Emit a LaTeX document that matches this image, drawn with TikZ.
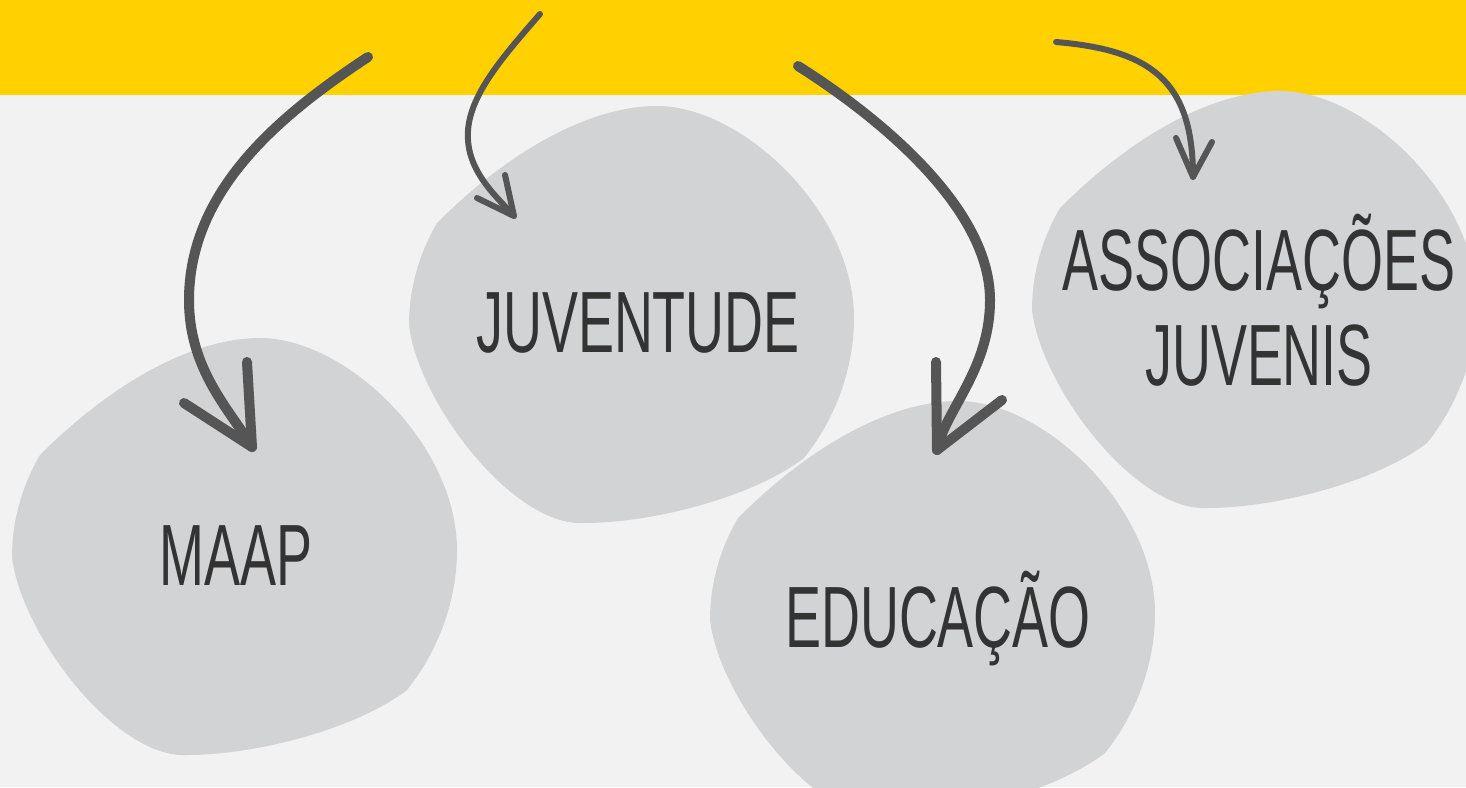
\documentclass[tikz,border=0pt]{standalone}
\usepackage{fontspec}
\newfontfamily\blobfont[FakeStretch=0.62]{Liberation Sans}

\definecolor{bggray}{HTML}{F2F2F2}
\definecolor{bandyellow}{HTML}{FFD100}
\definecolor{blobgray}{HTML}{D1D3D4}
\definecolor{arrowgray}{HTML}{555555}
\definecolor{textgray}{HTML}{333333}

\tikzset{
  blob/.pic={
    \fill[blobgray] (-196,-99) .. controls (-120,-175) and (-40,-216) .. (24,-216)
      .. controls (110,-216) and (221,-110) .. (221,-4)
      .. controls (221,50) and (200,100) .. (171,136)
      .. controls (120,175) and (20,201) .. (-49,201)
      .. controls (-120,205) and (-215,80) .. (-224,3)
      .. controls (-224,-40) and (-210,-75) .. cycle;
  },
  blobtext/.style={font=\blobfont\fontsize{87}{95}\selectfont, text=textgray,
    anchor=base, inner sep=0pt, align=center},
  thickarrow/.style={draw=arrowgray, line width=10pt, line cap=round, line join=round},
  thinarrow/.style={draw=arrowgray, line width=6pt, line cap=round, line join=round}
}

\begin{document}
\begin{tikzpicture}[x=1pt, y=-1pt]
  \useasboundingbox (0,0) rectangle (1466,787);
  \clip (0,0) rectangle (1466,787);
  \fill[bggray] (0,0) rectangle (1466,787);
  \fill[bandyellow] (0,0) rectangle (1466,95);

  % blobs
  \pic at (236,554) {blob};
  \pic at (633,322) {blob};
  \pic at (934,617) {blob};
  \pic at (1256,307) {blob};

  \node[blobtext] (maap) at (236,585) {MAAP};
  \node[blobtext] (juventude) at (638,352) {JUVENTUDE};
  \node[blobtext] (educacao) at (938,647) {EDUCAÇÃO};
  \node[blobtext] (associacoes) at (1259,385) {ASSOCIAÇÕES\\JUVENIS};

  % arrows
  \coordinate (maapstart) at (368,57);
  \coordinate (maapbend) at (189,300);
  \coordinate (maaptip) at (252,447);
  \draw[thickarrow] (maapstart) .. controls +(-88,58) and +(0,-110) .. (maapbend)
    .. controls +(0,70) and +(-22,-37) .. (maaptip);
  \draw[thickarrow] (184,403) -- (maaptip) -- (247,362);

  \coordinate (juvstart) at (540,14);
  \coordinate (juvbend) at (468,140);
  \coordinate (juvtip) at (514,216);
  \draw[thinarrow] (juvstart) .. controls +(-40,46) and +(-3,-40) .. (juvbend)
    .. controls +(2,35) and +(-14,-16) .. (juvtip);
  \draw[thinarrow] (477,198) -- (juvtip) -- (505,175);

  \coordinate (edustart) at (798,66);
  \coordinate (edubend) at (990,300);
  \coordinate (edutip) at (937,450);
  \draw[thickarrow] (edustart) .. controls +(62,39) and +(0,-100) .. (edubend)
    .. controls +(0,70) and +(8,-40) .. (edutip);
  \draw[thickarrow] (936,362) -- (edutip) -- (1002,400);

  \coordinate (assstart) at (1056,42);
  \coordinate (asstip) at (1193,177);
  \draw[thinarrow] (assstart) .. controls +(94,8) and +(0,-97) .. (asstip);
  \draw[thinarrow] (1176,138) -- (asstip) -- (1212,142);
\end{tikzpicture}
\end{document}
